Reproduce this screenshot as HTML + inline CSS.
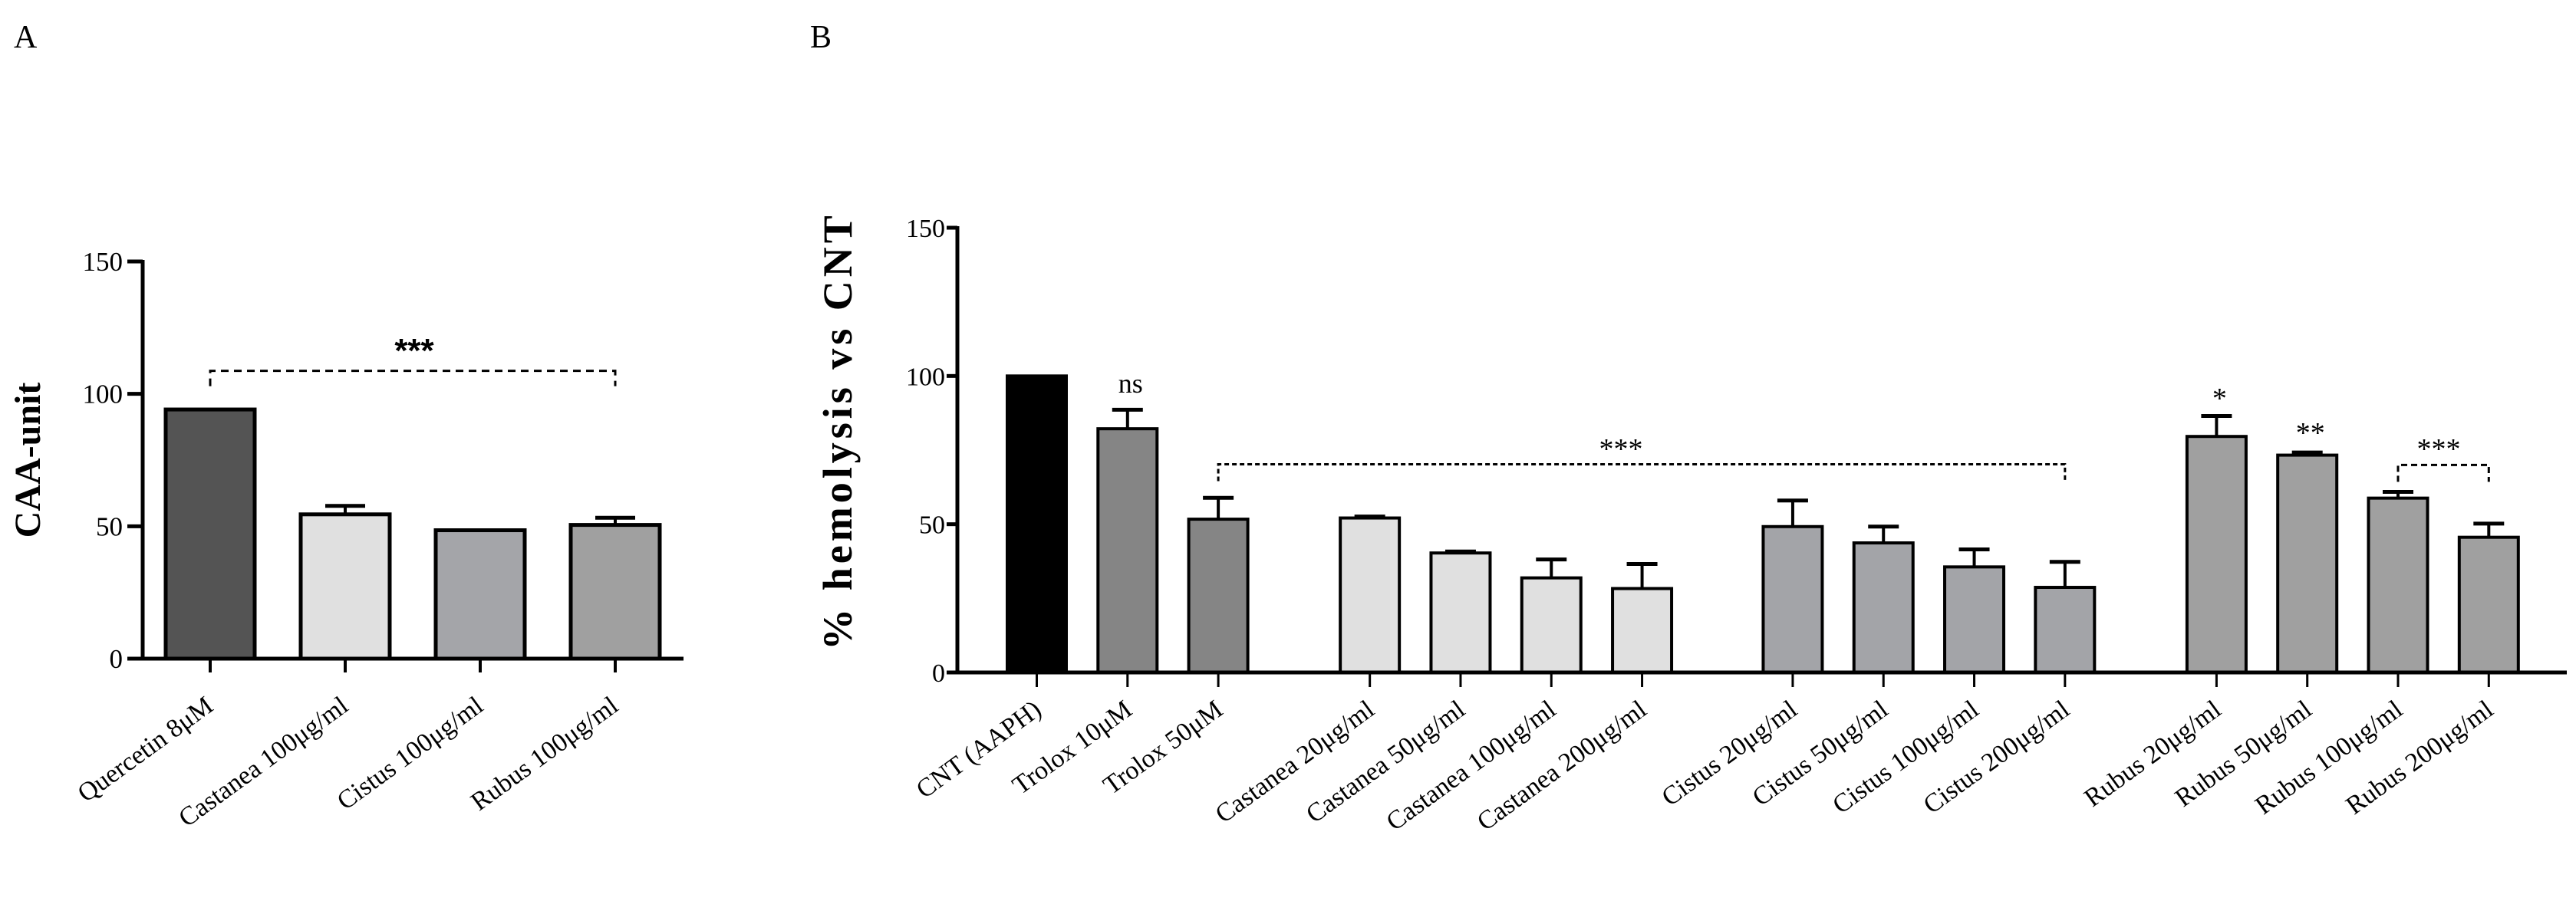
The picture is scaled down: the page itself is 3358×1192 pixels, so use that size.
<!DOCTYPE html>
<html><head><meta charset="utf-8">
<style>
html,body{margin:0;padding:0;background:#fff;}
svg{display:block;font-family:"Liberation Serif","Times New Roman",serif;}
</style></head>
<body>
<svg id="fig" width="3358" height="1192" viewBox="0 0 3358 1192">
<text x="18" y="62" font-size="42">A</text>
<text x="1056" y="62" font-size="42">B</text>
<g id="chartA"></g>
<g id="chartB"></g>
</svg>
<script>
// ---- Panel A data ----
const catsA = ["Quercetin 8μM","Castanea 100μg/ml","Cistus 100μg/ml","Rubus 100μg/ml"];
const valsA = [94.1, 54.5, 48.5, 50.5];
const errsA = [0, 3.2, 0, 2.7];
const colorsA = ["#545454","#e0e0e0","#a4a5a9","#a0a0a0"];
const ticksA = [0, 50, 100, 150];

// ---- Panel B data ----
const catsB = ["CNT (AAPH)","Trolox 10μM","Trolox 50μM","Castanea 20μg/ml","Castanea 50μg/ml","Castanea 100μg/ml","Castanea 200μg/ml","Cistus 20μg/ml","Cistus 50μg/ml","Cistus 100μg/ml","Cistus 200μg/ml","Rubus 20μg/ml","Rubus 50μg/ml","Rubus 100μg/ml","Rubus 200μg/ml"];
const slotsB = [0,1,2,3.67,4.67,5.67,6.67,8.33,9.33,10.33,11.33,13,14,15,16];
const valsB = [100, 82.2, 51.7, 52.1, 40.3, 31.9, 28.3, 49.2, 43.7, 35.6, 28.7, 79.6, 73.3, 58.8, 45.6];
const errsB = [0, 6.4, 7.2, 0.5, 0.5, 6.2, 8.3, 8.8, 5.5, 5.9, 8.6, 6.9, 0.9, 2.1, 4.6];
const colorsB = ["#000000","#858585","#858585","#e0e0e0","#e0e0e0","#e0e0e0","#e0e0e0","#a3a4a8","#a3a4a8","#a3a4a8","#a3a4a8","#a0a0a0","#a0a0a0","#a0a0a0","#a0a0a0"];
const ticksB = [0, 50, 100, 150];

const NS = "http://www.w3.org/2000/svg";
function mk(parent, tag, attrs, text){
  const e = document.createElementNS(NS, tag);
  for (const k in attrs) e.setAttribute(k, attrs[k]);
  if (text !== undefined) e.textContent = text;
  parent.appendChild(e);
  return e;
}

// ---------- Panel A ----------
(function(){
  const g = document.getElementById('chartA');
  const x0 = 186, xEnd = 891, yBase = 859, yTop = 341;
  const y = v => yBase - (v/150)*(yBase - yTop);
  const cx = i => 274 + i*176;
  const bw = 116;
  const yl = mk(g,'text',{x:0,y:0,transform:'translate(52,600) rotate(-90)','text-anchor':'middle','font-size':48,'font-weight':'bold'},'CAA-unit');
  
  
  ticksA.forEach(t=>{
    const tl = mk(g,'line',{x1:x0-20,x2:x0,y1:y(t),y2:y(t),stroke:'#000','stroke-width':5});
    
    
    const tx = mk(g,'text',{x:x0-26,y:y(t)+12,'text-anchor':'end','font-size':35},String(t));
    
    
  });
  valsA.forEach((v,i)=>{
    if (errsA[i]>0){
      const el = mk(g,'line',{x1:cx(i),x2:cx(i),y1:y(v),y2:y(v+errsA[i]),stroke:'#000','stroke-width':4});
      
      
      const ec = mk(g,'line',{x1:cx(i)-26,x2:cx(i)+26,y1:y(v+errsA[i]),y2:y(v+errsA[i]),stroke:'#000','stroke-width':5});
      
      
    }
    const r = mk(g,'rect',{x:cx(i)-bw/2,y:y(v),width:bw,height:yBase-y(v),fill:colorsA[i],stroke:'#000','stroke-width':5});
    
    
    const xt = mk(g,'line',{x1:cx(i),x2:cx(i),y1:yBase,y2:yBase+18,stroke:'#000','stroke-width':4});
    
    
    const lb = mk(g,'text',{x:0,y:0,transform:`translate(${cx(i)+6},${925}) rotate(-36)`,'text-anchor':'end','font-size':34},catsA[i]);
    
    
  });
  const ax = mk(g,'line',{x1:x0,x2:x0,y1:yTop-2,y2:yBase+2,stroke:'#000','stroke-width':5});
  
  
  const axx = mk(g,'line',{x1:x0-20,x2:xEnd,y1:yBase,y2:yBase,stroke:'#000','stroke-width':5});
  
  
  const by = y(108.7);
  const br = mk(g,'path',{d:`M${cx(0)},${by+20} L${cx(0)},${by} L${cx(3)},${by} L${cx(3)},${by+20}`,fill:'none',stroke:'#000','stroke-width':3,'stroke-dasharray':'10,7'});
  
  
  const st = mk(g,'text',{x:540,y:472,'text-anchor':'middle','font-size':44,'font-weight':'bold','font-family':'Liberation Sans, sans-serif'},'***');
  
  
})();

// ---------- Panel B ----------
(function(){
  const g = document.getElementById('chartB');
  const x0 = 1248, xEnd = 3346, yBase = 877, yTop = 297;
  const y = v => yBase - (v/150)*(yBase - yTop);
  const cx = i => 1351.5 + slotsB[i]*118.3;
  const bw = 77;
  const yl = mk(g,'text',{x:0,y:0,transform:'translate(1110,562) rotate(-90)','text-anchor':'middle','font-size':54,'font-weight':'bold','letter-spacing':5},'% hemolysis vs CNT');
  
  
  ticksB.forEach(t=>{
    const tl = mk(g,'line',{x1:x0-14,x2:x0,y1:y(t),y2:y(t),stroke:'#000','stroke-width':5});
    
    
    const tx = mk(g,'text',{x:x0-16,y:y(t)+12,'text-anchor':'end','font-size':34},String(t));
    
    
  });
  valsB.forEach((v,i)=>{
    if (errsB[i]>0){
      const el = mk(g,'line',{x1:cx(i),x2:cx(i),y1:y(v),y2:y(v+errsB[i]),stroke:'#000','stroke-width':4});
      
      
      const ec = mk(g,'line',{x1:cx(i)-20,x2:cx(i)+20,y1:y(v+errsB[i]),y2:y(v+errsB[i]),stroke:'#000','stroke-width':5});
      
      
    }
    const r = mk(g,'rect',{x:cx(i)-bw/2,y:y(v),width:bw,height:yBase-y(v),fill:colorsB[i],stroke:'#000','stroke-width':4});
    
    
    const xt = mk(g,'line',{x1:cx(i),x2:cx(i),y1:yBase,y2:yBase+19,stroke:'#000','stroke-width':3});
    
    
    const lb = mk(g,'text',{x:0,y:0,transform:`translate(${cx(i)+8},${930}) rotate(-36)`,'text-anchor':'end','font-size':34},catsB[i]);
    
    
  });
  const ax = mk(g,'line',{x1:x0,x2:x0,y1:yTop-2,y2:yBase+2,stroke:'#000','stroke-width':5});
  
  
  const axx = mk(g,'line',{x1:x0-14,x2:xEnd,y1:yBase,y2:yBase,stroke:'#000','stroke-width':5});
  
  
  const b1 = y(70.2);
  const br1 = mk(g,'path',{d:`M${cx(2)},${b1+22} L${cx(2)},${b1} L${cx(10)},${b1} L${cx(10)},${b1+22}`,fill:'none',stroke:'#000','stroke-width':3,'stroke-dasharray':'6,4'});
  
  
  const s1 = mk(g,'text',{x:2113,y:598,'text-anchor':'middle','font-size':38},'***');
  
  
  const b2 = y(70);
  const br2 = mk(g,'path',{d:`M${cx(13)},${b2+22} L${cx(13)},${b2} L${cx(14)},${b2} L${cx(14)},${b2+22}`,fill:'none',stroke:'#000','stroke-width':3,'stroke-dasharray':'8,5'});
  
  
  const s2 = mk(g,'text',{x:3179,y:598,'text-anchor':'middle','font-size':38},'***');
  
  
  const s3 = mk(g,'text',{x:cx(11)+4,y:532,'text-anchor':'middle','font-size':38},'*');
  
  
  const s4 = mk(g,'text',{x:cx(12)+4,y:577,'text-anchor':'middle','font-size':38},'**');
  
  
  const s5 = mk(g,'text',{x:cx(1)+4,y:512,'text-anchor':'middle','font-size':36},'ns');
  
  
})();
</script>
</body></html>
